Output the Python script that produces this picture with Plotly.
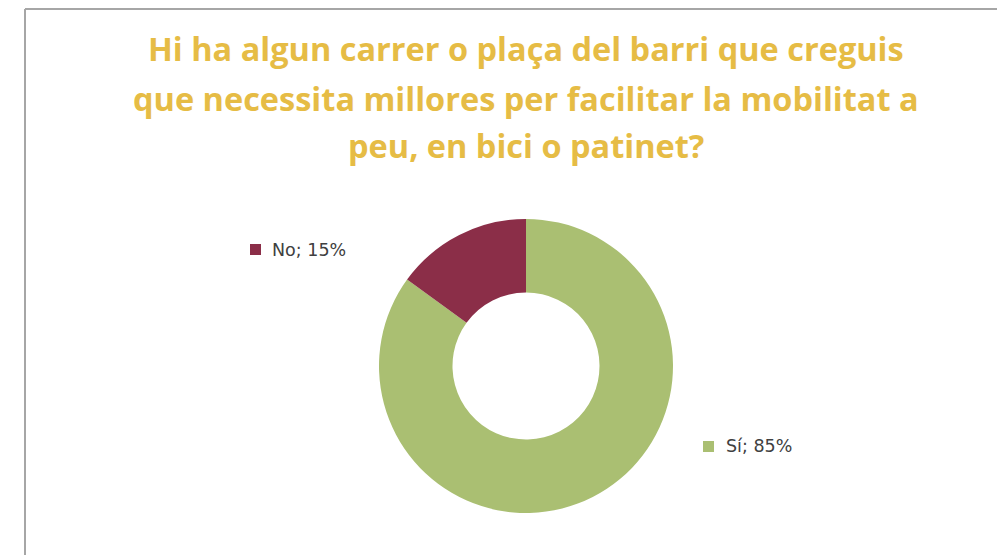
import plotly.graph_objects as go

labels = ["Sí", "No"]
values = [85, 15]
colors = ["#AABF72", "#8B2E48"]
title_lines = ["Hi ha algun carrer o plaça del barri que creguis",
               "que necessita millores per facilitar la mobilitat a",
               "peu, en bici o patinet?"]

W, H = 1005, 555
OFF = 8  # page body margin
cx, cy, R = 526 - OFF, 366 - OFF, 147


def px(x):
    return x / W


def py(y):
    return 1 - y / H


fig = go.Figure(go.Pie(
    labels=labels, values=values, hole=0.5,
    marker=dict(colors=colors, line=dict(width=0)),
    sort=False, direction="clockwise", rotation=0,
    textinfo="none", hoverinfo="label+percent", showlegend=False,
    domain=dict(x=[px(cx - R), px(cx + R)], y=[py(cy + R), py(cy - R)]),
))

# data labels (legend key + "label; pct")
key_pos = {"No": (250 - OFF, 244 - OFF), "Sí": (703 - OFF, 441 - OFF)}
text_pos = {"No": (272 - OFF, 250 - OFF), "Sí": (726 - OFF, 446 - OFF)}
for lab, val, col in zip(labels, values, colors):
    kx, ky = key_pos[lab]
    fig.add_shape(type="rect", xref="paper", yref="paper",
                  x0=px(kx), x1=px(kx + 11), y0=py(ky + 11), y1=py(ky),
                  fillcolor=col, line=dict(width=0))
    tx, ty = text_pos[lab]
    fig.add_annotation(
        x=px(tx), y=py(ty), xref="paper", yref="paper",
        xanchor="left", yanchor="middle", showarrow=False,
        xshift=-2,
        text=f"{lab}; {val}%",
        font=dict(family="DejaVu Sans", size=17.5, color="#404040"),
    )

# title lines
title_y = [48, 98, 145]
for t, ty in zip(title_lines, title_y):
    fig.add_annotation(
        x=px(526 - OFF), y=py(ty - OFF), xref="paper", yref="paper",
        xanchor="center", yanchor="middle", showarrow=False,
        text=f"<b>{t}</b>",
        font=dict(family="Open Sans", size=32.5, color="#E6BC45"),
    )

# frame
fig.add_shape(type="line", xref="paper", yref="paper",
              x0=px(25 - OFF), y0=0, x1=px(25 - OFF), y1=py(1),
              line=dict(color="#A6A6A6", width=2))
fig.add_shape(type="line", xref="paper", yref="paper",
              x0=px(25 - OFF), y0=py(1), x1=1, y1=py(1),
              line=dict(color="#A6A6A6", width=2))

fig.update_layout(width=W, height=H, margin=dict(l=0, r=0, t=0, b=0),
                  paper_bgcolor="white", plot_bgcolor="white")
fig.write_html("out.html")
